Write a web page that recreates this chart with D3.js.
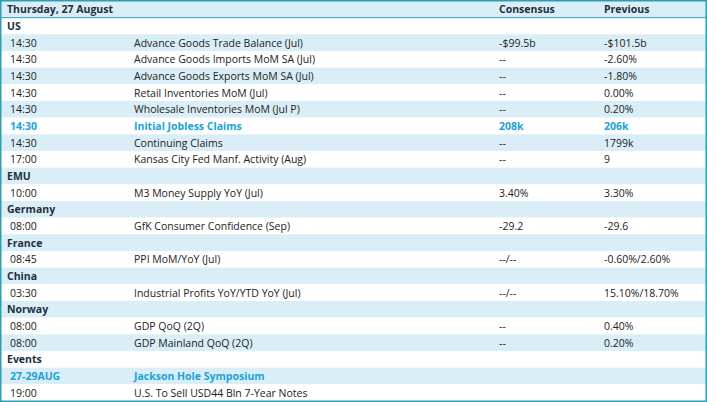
<!DOCTYPE html>
<html><head><meta charset="utf-8">
<script src="https://cdn.jsdelivr.net/npm/d3@7"></script>
<style>body{margin:0;background:#fff}</style>
</head><body>
<svg id="tbl" width="707" height="402"></svg>
<script>
// header labels
var title = "Thursday, 27 August";
var colHeads = ["Consensus", "Previous"];

// rows: [time, event, consensus, previous]; section rows have only time
var times = ["US","14:30","14:30","14:30","14:30","14:30","14:30","14:30","17:00",
  "EMU","10:00","Germany","08:00","France","08:45","China","03:30",
  "Norway","08:00","08:00","Events","27-29AUG","19:00"];
var events = ["","Advance Goods Trade Balance (Jul)","Advance Goods Imports MoM SA (Jul)",
  "Advance Goods Exports MoM SA (Jul)","Retail Inventories MoM (Jul)","Wholesale Inventories MoM (Jul P)",
  "Initial Jobless Claims","Continuing Claims","Kansas City Fed Manf. Activity (Aug)",
  "","M3 Money Supply YoY (Jul)","","GfK Consumer Confidence (Sep)","","PPI MoM/YoY (Jul)",
  "","Industrial Profits YoY/YTD YoY (Jul)","","GDP QoQ (2Q)","GDP Mainland QoQ (2Q)",
  "","Jackson Hole Symposium","U.S. To Sell USD44 Bln 7-Year Notes"];
var consensus = ["","-$99.5b","--","--","--","--","208k","--","--","","3.40%","","-29.2","","--/--",
  "","--/--","","--","--","","",""];
var previous = ["","-$101.5b","-2.60%","-1.80%","0.00%","0.20%","206k","1799k","9","","3.30%","","-29.6","",
  "-0.60%/2.60%","","15.10%/18.70%","","0.40%","0.20%","","",""];
var highlight = ["Initial Jobless Claims","Jackson Hole Symposium"];

var svg = d3.select("#tbl");
var W = 707, H = 402;
var n = times.length + 1;
var y = d3.scaleBand().domain(d3.range(n)).range([1, H - 1]);
var blue = "#daeef7", teal = "#2e9fb3", hi = "#1aa3d6";

svg.selectAll("rect.row").data(d3.range(n)).enter().append("rect")
  .attr("x", 1).attr("width", W - 2)
  .attr("y", function(i){ return y(i); })
  .attr("height", y.bandwidth())
  .attr("fill", function(i){ return i % 2 == 0 ? blue : "#fff"; });

var font = "Open Sans, sans-serif";
function txt(x, i, s, bold, color){
  svg.append("text").attr("x", x).attr("y", y(i) + y.bandwidth() / 2 + 4)
    .attr("font-family", font).attr("font-size", 10.5)
    .attr("font-weight", bold ? "bold" : "normal")
    .attr("fill", color || "#222").text(s);
}

txt(7, 0, title, true, "#1f2f3f");
txt(499, 0, colHeads[0], true, "#1f2f3f");
txt(604, 0, colHeads[1], true, "#1f2f3f");

times.forEach(function(t, k){
  var i = k + 1;
  var section = events[k] == "" && consensus[k] == "" && previous[k] == "";
  var isHi = highlight.indexOf(events[k]) >= 0;
  var c = isHi ? hi : "#222";
  if (section) { txt(7, i, t, true, "#1f2f3f"); return; }
  txt(10, i, t, isHi, c);
  txt(134, i, events[k], isHi, c);
  txt(499, i, consensus[k], isHi, c);
  txt(604, i, previous[k], isHi, c);
});

svg.append("rect").attr("x", 0.75).attr("y", 0.75).attr("width", W - 1.5).attr("height", H - 1.5)
  .attr("fill", "none").attr("stroke", teal).attr("stroke-width", 1.5);
svg.append("line").attr("x1", 0).attr("x2", W).attr("y1", y(1)).attr("y2", y(1))
  .attr("stroke", teal).attr("stroke-width", 1);
</script>
</body></html>
